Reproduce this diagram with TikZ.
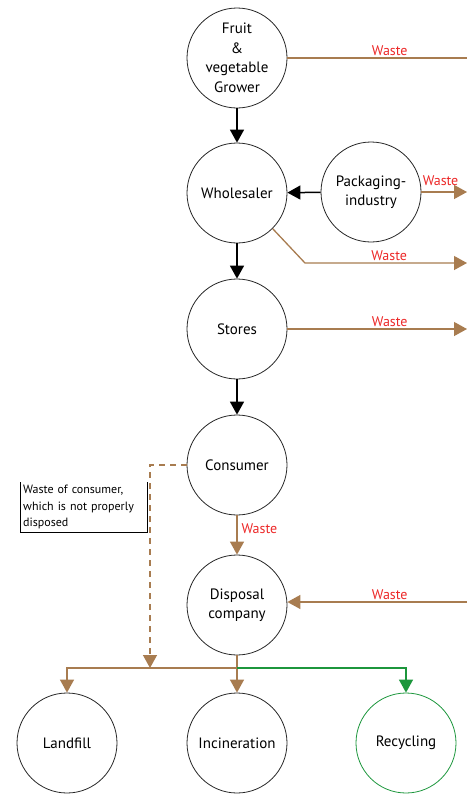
\documentclass[tikz,border=0pt]{standalone}
\usepackage{fontspec}
\setmainfont{PT Sans}
\usetikzlibrary{arrows.meta}
\definecolor{wastebrown}{RGB}{168,124,80}
\definecolor{wastered}{RGB}{236,40,40}
\definecolor{recyclegreen}{RGB}{28,150,60}

\begin{document}
\begin{tikzpicture}[x=1pt, y=-1pt, >={Triangle[width=14pt,length=13pt]},
    actor/.style={circle, draw=black!85, line width=0.8pt, minimum size=100pt, inner sep=0pt, align=center, font=\fontsize{15}{19.5}\selectfont},
    flow/.style={->, line width=1.5pt},
    waste/.style={->, wastebrown, line width=1.3pt},
    wastelabel/.style={text=wastered, font=\fontsize{14}{16}\selectfont, inner sep=2pt}]
    \useasboundingbox (0,0) rectangle (467,796);

    % Actors
    \node[actor] (grower) at (237,58) {Fruit\\\&\\vegetable\\Grower};
    \node[actor] (wholesaler) at (237,193) {Wholesaler};
    \node[actor] (packaging) at (371,192) {Packaging-\\industry};
    \node[actor] (stores) at (237,329) {Stores};
    \node[actor] (consumer) at (237,465) {Consumer};
    \node[actor] (disposal) at (237,605) {Disposal\\company};
    \node[actor] (landfill) at (67,743) {Landfill};
    \node[actor] (incineration) at (237,743) {Incineration};
    \node[actor, draw=recyclegreen] (recycling) at (406,743) {Recycling};

    % Supply chain
    \draw[flow] (grower) -- (wholesaler);
    \draw[flow] (packaging) -- (wholesaler);
    \draw[flow] (wholesaler) -- (stores);
    \draw[flow] (stores) -- (consumer);

    % Waste leaving the chain
    \coordinate (growerout) at (467,58);
    \coordinate (packout) at (467,192);
    \coordinate (wholebend) at (305,263);
    \coordinate (wholeout) at (467,263);
    \coordinate (storesout) at (467,329);
    \coordinate (disposalin) at (467,602);
    \draw[wastebrown, line width=1.3pt] (grower) -- node[wastelabel, pos=.57, above] {Waste} (growerout);
    \draw[waste] (packaging.east) -- node[wastelabel, pos=.42, above, yshift=4pt] {Waste} (packout);
    \draw[waste] (wholesaler.-45) -- (wholebend) -- node[wastelabel, pos=.52, above] {Waste} (wholeout);
    \draw[waste] (stores) -- node[wastelabel, pos=.57, above] {Waste} (storesout);
    \draw[waste] (disposalin) -- node[wastelabel, pos=.43, above] {Waste} (disposal.east |- disposalin);

    % Consumer waste
    \draw[waste] (consumer) -- node[wastelabel, pos=.35, right, xshift=2pt] {Waste} (disposal);
    \coordinate (split) at (237,668);
    \coordinate (dashbend) at (150,465);
    \draw[waste, dashed, dash pattern=on 6pt off 5pt] (consumer.west) -- (dashbend) -- (dashbend |- split);
    \node[anchor=north west, align=left, text width=121pt, inner sep=3pt, font=\fontsize{12}{16.5}\selectfont] (note) at (20,482) {Waste of consumer, which is not properly disposed};
    \draw[line width=0.6pt] (note.north west) -- (note.south west) -- (note.south east) -- (note.north east);

    % Treatment
    \draw[wastebrown, line width=1.3pt] (disposal) -- (split);
    \draw[waste] (split) -| (landfill);
    \draw[waste] (split) -- (incineration);
    \draw[->, recyclegreen, line width=1.3pt] (split) -| (recycling);
\end{tikzpicture}
\end{document}
